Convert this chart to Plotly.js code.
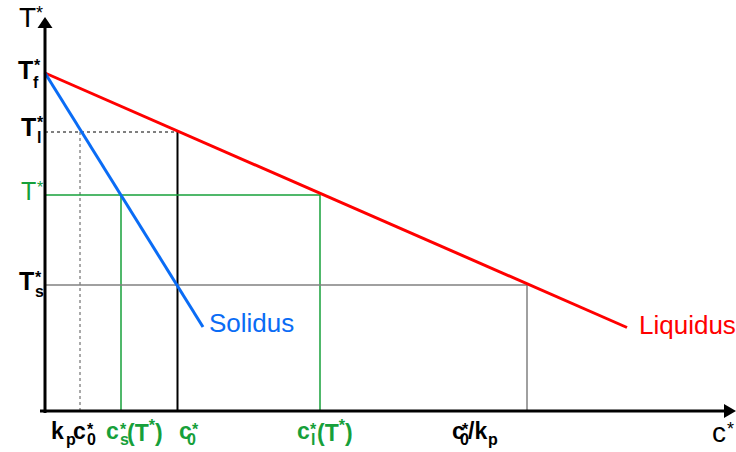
<!DOCTYPE html>
<html><head>
<meta charset="utf-8">
<script src="https://cdn.plot.ly/plotly-3.0.1.min.js"></script>
<style>body{margin:0;background:#fff}</style>
</head><body>
<div id="c" style="width:736px;height:452px"></div>
<script>
// Values (arbitrary units: x = concentration, y = temperature)
const Tf = 338, Tl = 279, Tstar = 216, Ts = 126;
const kpc0 = 35, csT = 76, c0 = 132.5, clT = 275, c0kp = 482;
const liquidusX = [0, 582], liquidusY = [338, 83.5];
const solidusX = [0, 158], solidusY = [338, 84];

const FONT = 'Liberation Sans, Arial, sans-serif';
const GREEN = '#16a03a', RED = '#ff0000', BLUE = '#0a6cf5', GRAY = '#808080';

function ln(x, y, color, width, dash) {
  return {x: x, y: y, mode: 'lines', hoverinfo: 'skip', showlegend: false,
          cliponaxis: false, line: {color: color, width: width, dash: dash || 'solid'}};
}
const traces = [
  ln([0, c0], [Tl, Tl], '#000', 1, 'dot'),
  ln([kpc0, kpc0], [0, Tl], '#555', 1, 'dot'),
  ln([c0, c0], [0, Tl], '#000', 2),
  ln([0, clT], [Tstar, Tstar], GREEN, 1.5),
  ln([csT, csT], [0, Tstar], GREEN, 1.5),
  ln([clT, clT], [0, Tstar], GREEN, 1.5),
  ln([0, c0kp], [Ts, Ts], GRAY, 1.5),
  ln([c0kp, c0kp], [0, Ts], GRAY, 1.5),
  ln(liquidusX, liquidusY, RED, 3),
  ln(solidusX, solidusY, BLUE, 3)
];

// label placement helper in pixel coordinates of the 736x452 page (origin of axes at 45,411)
function T(xp, yp, text, size, color, bold, xa) {
  return {xref: 'x', yref: 'y', x: xp - 45, y: 411 - yp, text: bold ? '<b>' + text + '</b>' : text,
          showarrow: false, xanchor: xa || 'left', yanchor: 'middle', borderpad: 0,
          font: {family: FONT, size: size, color: color || '#000'}};
}
const M = 23, S = 16, YM = 431, YSUP = 429, YSUB = 439;
const ann = [
  // axis names
  T(37, 17, 'T', 28, '#000', false, 'right'), T(35, 13, '*', 18, '#000'),
  T(711, 432, 'c', 28, '#000'), T(726, 429, '*', 18, '#000'),
  // y labels
  T(34, 70, 'T', 25, '#000', true, 'right'), T(33, 65, '*', 16, '#000', true), T(32, 82, 'f', 16, '#000', true),
  T(37, 127, 'T', 25, '#000', true, 'right'), T(36, 122, '*', 16, '#000', true), T(36, 137, 'l', 16, '#000', true),
  T(37, 191, 'T', 25, GREEN, false, 'right'), T(36, 187, '*', 16, GREEN),
  T(35, 281, 'T', 25, '#000', true, 'right'), T(34, 277, '*', 16, '#000', true), T(34, 291, 's', 16, '#000', true),
  // x labels
  T(65, YM, 'k', M, '#000', true, 'right'), T(65, YSUB, 'p', S, '#000', true),
  T(72, YM, 'c', M, '#000', true), T(86, YSUP, '*', S, '#000', true), T(86, YSUB, '0', S, '#000', true),
  T(105, YM, 'c', M, GREEN, true), T(119, YSUP, '*', S, GREEN, true), T(119, YSUB, 's', S, GREEN, true),
  T(126, YM, '(T<sup>*</sup>)', M, GREEN, true),
  T(178, YM, 'c', M, GREEN, true), T(191, YSUP, '*', S, GREEN, true), T(186, YSUB, '0', S, GREEN, true),
  T(296, YM, 'c', M, GREEN, true), T(309, YSUP, '*', S, GREEN, true), T(310, YSUB, 'l', S, GREEN, true),
  T(316, YM, '(T<sup>*</sup>)', M, GREEN, true),
  T(451, YM, 'c', M, '#000', true), T(461, YSUP, '*', S, '#000', true), T(459, YSUB, '0', S, '#000', true),
  T(467, YM, '/k', M, '#000', true), T(487, YSUB, 'p', S, '#000', true),
  // curve names
  T(208, 323, 'Solidus', 26, BLUE), T(638, 325, 'Liquidus', 26, RED)
];

const shapes = [
  {type: 'line', xref: 'x', yref: 'y', x0: 0, x1: 0, y0: -2, y1: 384, line: {color: '#000', width: 3}},
  {type: 'line', xref: 'x', yref: 'y', x0: -5, x1: 680, y0: 0, y1: 0, line: {color: '#000', width: 3}},
  {type: 'path', xref: 'x', yref: 'y', path: 'M -7.5 383 L 7.5 383 L 0 394 Z', fillcolor: '#000', line: {width: 0}},
  {type: 'path', xref: 'x', yref: 'y', path: 'M 679 7 L 679 -7 L 691 0 Z', fillcolor: '#000', line: {width: 0}}
];

const layout = {
  width: 736, height: 452,
  margin: {l: 0, r: 0, t: 0, b: 0, pad: 0},
  paper_bgcolor: '#fff', plot_bgcolor: '#fff',
  xaxis: {range: [-45, 691], visible: false, fixedrange: true},
  yaxis: {range: [-41, 411], visible: false, fixedrange: true},
  annotations: ann, shapes: shapes, showlegend: false
};
Plotly.newPlot('c', traces, layout, {displayModeBar: false, staticPlot: true});
</script>
</body></html>
